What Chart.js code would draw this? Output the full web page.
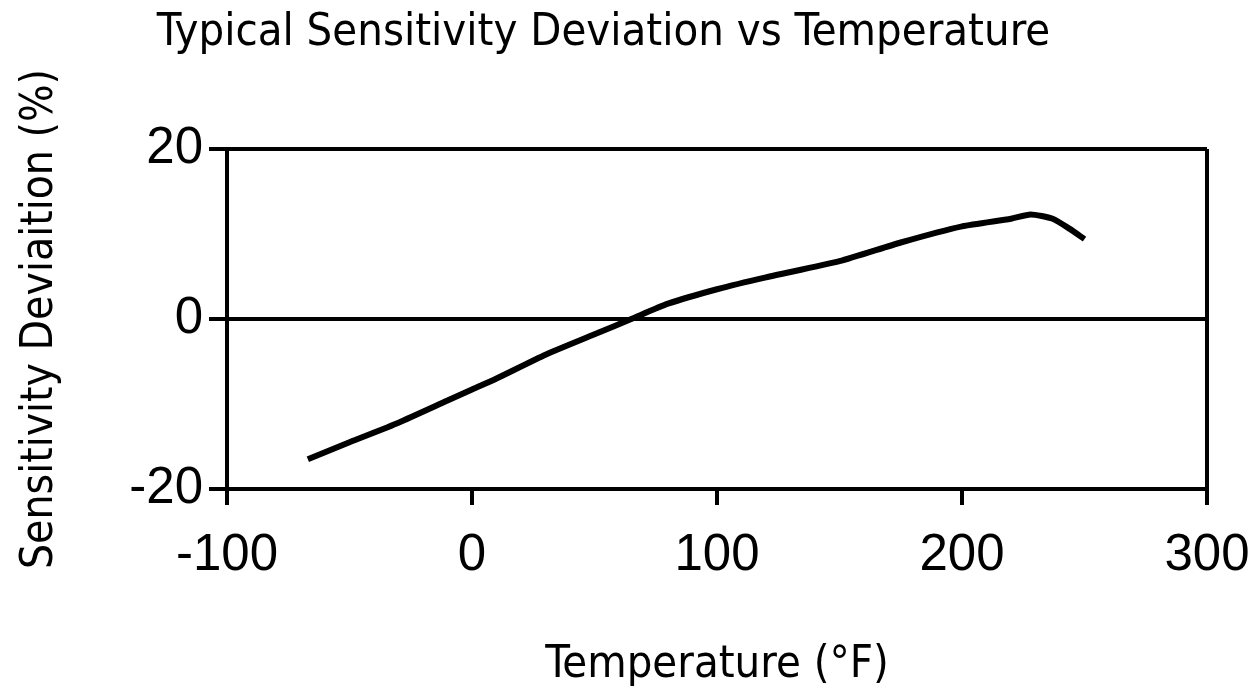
<!DOCTYPE html>
<html>
<head>
<meta charset="utf-8">
<title>Typical Sensitivity Deviation vs Temperature</title>
<script src="https://cdn.jsdelivr.net/npm/chart.js@4.4.1/dist/chart.umd.min.js"></script>
<style>
  html, body { margin: 0; padding: 0; background: #fff; }
  #wrap { width: 1260px; height: 698px; position: relative; }
</style>
</head>
<body>
<div id="wrap"><canvas id="sensChart"></canvas></div>
<script>
// --- DATA ---
const temperatures = [-67, -50, -30, -10, 0, 10, 30, 50, 65, 80, 100, 120, 150, 175, 200, 220, 228, 237, 244, 250];
const deviations   = [-16.5, -14.5, -12.2, -9.6, -8.3, -7.0, -4.2, -1.8, 0, 1.8, 3.5, 4.9, 6.8, 9.0, 10.9, 11.8, 12.3, 11.8, 10.6, 9.4];
const xTicks = [-100, 0, 100, 200, 300];
const yTicks = [-20, 0, 20];

const titleText = 'Typical Sensitivity Deviation vs Temperature';
const xTitle = 'Temperature (°F)';
const yTitle = 'Sensitivity Deviaition (%)';

const narrowFont = "'DejaVu Sans Condensed', 'DejaVu Sans', sans-serif";
const tickFont = "'Liberation Sans', Arial, sans-serif";

const points = temperatures.map((t, i) => ({ x: t, y: deviations[i] }));

new Chart(document.getElementById('sensChart'), {
    type: 'line',
    data: {
        datasets: [{
            data: points,
            borderColor: '#000',
            borderWidth: 6,
            pointRadius: 0,
            tension: 0.2,
            fill: false
        }]
    },
    options: {
        responsive: true,
        maintainAspectRatio: false,
        animation: false,
        layout: { padding: { left: 0, right: 53, top: 0, bottom: 0 } },
        plugins: {
            legend: { display: false },
            tooltip: { enabled: false },
            title: {
                display: true,
                text: titleText,
                color: '#000',
                font: { family: narrowFont, size: 45, weight: 'normal', lineHeight: 1.2 },
                padding: { top: 6, bottom: 89 }
            }
        },
        scales: {
            x: {
                type: 'linear',
                min: xTicks[0],
                max: xTicks[xTicks.length - 1],
                afterBuildTicks: s => { s.ticks = xTicks.map(v => ({ value: v })); },
                afterFit: s => { s.height = 209; s.paddingLeft = 0; s.paddingRight = 0; },
                ticks: { color: '#000', font: { family: tickFont, size: 51 }, padding: 20, maxRotation: 0 },
                grid: {
                    color: c => (c.tick && c.tick.value === 300) ? '#000' : 'rgba(0,0,0,0)',
                    lineWidth: 4,
                    tickColor: '#000',
                    tickLength: 16
                },
                border: { display: true, color: '#000', width: 4 },
                title: {
                    display: true,
                    text: xTitle,
                    color: '#000',
                    font: { family: narrowFont, size: 45, lineHeight: 1.2 },
                    padding: { top: 0, bottom: 6 }
                }
            },
            y: {
                type: 'linear',
                min: yTicks[0],
                max: yTicks[yTicks.length - 1],
                afterBuildTicks: s => { s.ticks = yTicks.map(v => ({ value: v })); },
                afterFit: s => { s.width = 227; },
                ticks: { color: '#000', font: { family: tickFont, size: 51 }, padding: 6 },
                grid: {
                    color: c => (c.tick && (c.tick.value === 0 || c.tick.value === 20)) ? '#000' : 'rgba(0,0,0,0)',
                    lineWidth: 4,
                    tickColor: '#000',
                    tickLength: 18
                },
                border: { display: true, color: '#000', width: 4 },
                title: {
                    display: true,
                    text: yTitle,
                    color: '#000',
                    font: { family: narrowFont, size: 44, lineHeight: 1.2 },
                    padding: { top: 14, bottom: 0 }
                }
            }
        }
    }
});
</script>
</body>
</html>
